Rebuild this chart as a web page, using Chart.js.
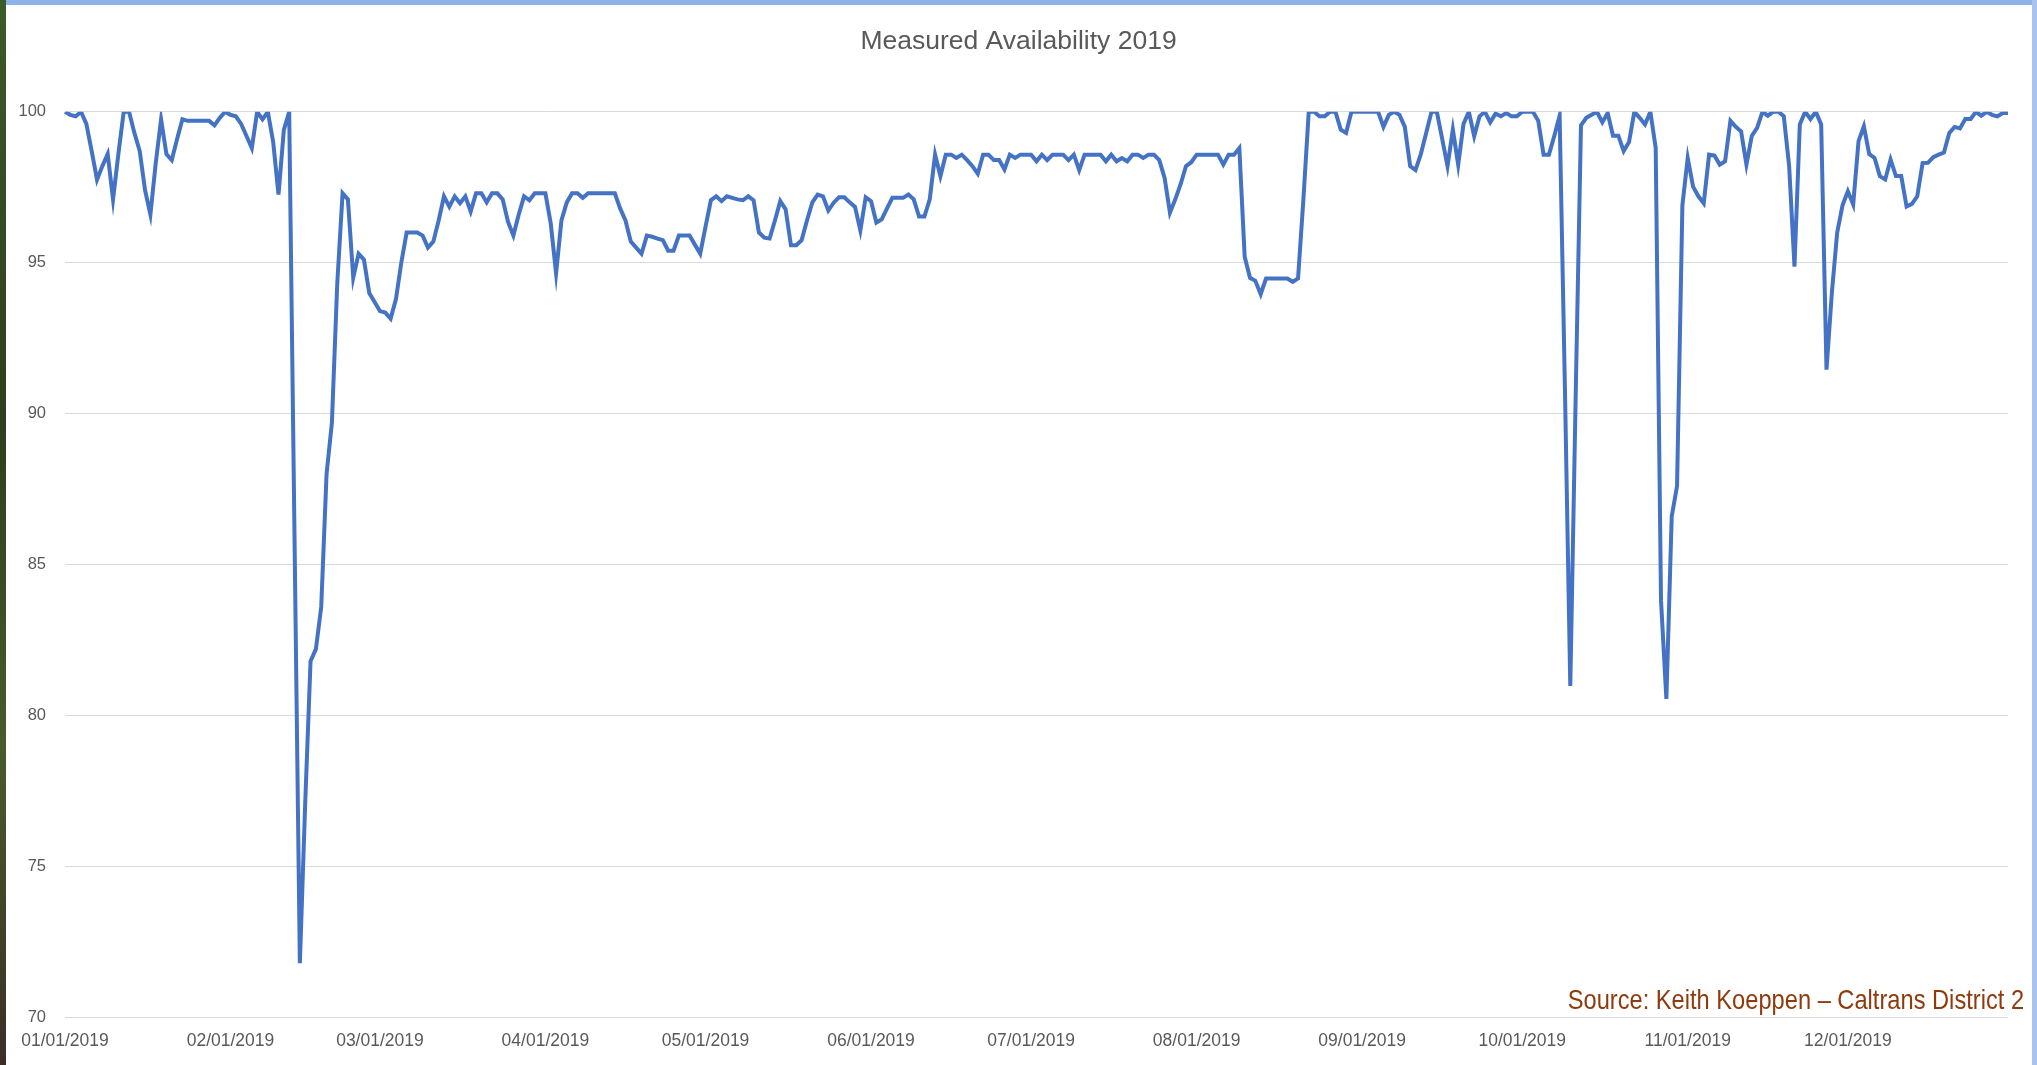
<!DOCTYPE html>
<html>
<head>
<meta charset="utf-8">
<script src="https://cdn.jsdelivr.net/npm/chart.js@4.4.1/dist/chart.umd.min.js"></script>
<style>
  html, body { margin: 0; padding: 0; background: #ffffff; }
  #wrap { position: relative; width: 2037px; height: 1065px; overflow: hidden; }
  #chartBox { position: absolute; left: 0; top: 0; width: 2037px; height: 1065px; }
  .edge { position: absolute; z-index: 2; }
  #edgeTop { left: 0; top: 0; width: 2037px; height: 5px; background: #8fb1ea; }
  #edgeLeft { left: 0; top: 0; width: 6px; height: 1065px; background: linear-gradient(#3c5a2a, #2c3f1f 40%, #4a5a2c 70%, #3a2f26); }
  #edgeRight { right: 0; top: 0; width: 5px; height: 1065px; background: #a9c2ee; }
  #source {
    position: absolute; z-index: 3; right: 13px; top: 984px;
    font-family: "Liberation Sans", Arial, sans-serif; font-size: 28px;
    color: #8f3a0c; white-space: nowrap;
    transform: scaleX(0.845); transform-origin: right center;
  }
</style>
</head>
<body>
<div id="wrap">
  <div id="chartBox"><canvas id="lineChart"></canvas></div>
  <div class="edge" id="edgeTop"></div>
  <div class="edge" id="edgeLeft"></div>
  <div class="edge" id="edgeRight"></div>
  <div id="source">Source: Keith Koeppen – Caltrans District 2</div>
</div>
<script>
// daily measured availability (%), 01/01/2019 .. 12/31/2019
const availability = [
  100.0, 99.9, 99.85, 100, 99.6, 98.7, 97.75, 98.2, 98.6, 97.1,
  98.6, 100, 100, 99.3, 98.7, 97.4, 96.6, 98.3, 99.75, 98.6,
  98.4, 99.1, 99.75, 99.7, 99.7, 99.7, 99.7, 99.7, 99.55, 99.8,
  100, 99.9, 99.85, 99.6, 99.2, 98.8, 100, 99.75, 100, 99.0,
  97.26, 99.4, 100, 85.9, 71.8, 77.1, 81.8, 82.2, 83.6, 88.0,
  89.7, 94.3, 97.3, 97.1, 94.5, 95.3, 95.1, 94.0, 93.7, 93.4,
  93.35, 93.15, 93.8, 95.0, 96.0, 96.0, 96.0, 95.9, 95.5, 95.7,
  96.4, 97.2, 96.86, 97.2, 96.97, 97.2, 96.7, 97.3, 97.3, 97.0,
  97.3, 97.3, 97.1, 96.35, 95.9, 96.6, 97.2, 97.07, 97.3, 97.3,
  97.3, 96.3, 94.65, 96.4, 97.0, 97.3, 97.3, 97.15, 97.3, 97.3,
  97.3, 97.3, 97.3, 97.3, 96.8, 96.4, 95.7, 95.5, 95.3, 95.9,
  95.86, 95.8, 95.75, 95.4, 95.4, 95.9, 95.9, 95.9, 95.6, 95.3,
  96.2, 97.07, 97.2, 97.04, 97.2, 97.15, 97.1, 97.07, 97.2, 97.07,
  96.0, 95.83, 95.8, 96.4, 97.04, 96.77, 95.58, 95.58, 95.75, 96.4,
  97.0, 97.26, 97.2, 96.73, 96.99, 97.17, 97.17, 97.0, 96.85, 96.07,
  97.17, 97.04, 96.33, 96.44, 96.8, 97.15, 97.15, 97.15, 97.26, 97.1,
  96.53, 96.53, 97.1, 98.58, 97.87, 98.58, 98.58, 98.47, 98.58, 98.4,
  98.2, 97.95, 98.58, 98.58, 98.4, 98.4, 98.09, 98.58, 98.47, 98.58,
  98.58, 98.58, 98.36, 98.58, 98.4, 98.58, 98.58, 98.58, 98.4, 98.58,
  98.07, 98.58, 98.58, 98.58, 98.58, 98.36, 98.58, 98.36, 98.47, 98.36,
  98.58, 98.58, 98.47, 98.58, 98.58, 98.4, 97.81, 96.66, 97.1, 97.6,
  98.2, 98.33, 98.58, 98.58, 98.58, 98.58, 98.58, 98.25, 98.58, 98.58,
  98.8, 95.2, 94.5, 94.4, 93.96, 94.48, 94.48, 94.48, 94.48, 94.48,
  94.37, 94.48, 97.1, 100, 100, 99.85, 99.85, 100, 100, 99.41,
  99.3, 100, 100, 100, 100, 100, 100, 99.5, 99.9, 100,
  99.9, 99.5, 98.2, 98.07, 98.6, 99.3, 100, 100, 99.1, 98.2,
  99.41, 98.25, 99.6, 100, 99.19, 99.85, 100, 99.65, 99.94, 99.85,
  99.96, 99.85, 99.85, 100, 100, 100, 99.7, 98.58, 98.58, 99.2,
  99.87, 90.8, 80.98, 90.5, 99.55, 99.8, 99.9, 100, 99.65, 99.96,
  99.21, 99.21, 98.7, 99.0, 100, 99.8, 99.58, 100, 98.8, 83.8,
  80.55, 86.6, 87.6, 96.9, 98.47, 97.52, 97.2, 96.97, 98.58, 98.55,
  98.25, 98.36, 99.7, 99.5, 99.35, 98.25, 99.2, 99.47, 100, 99.87,
  100, 100, 99.85, 98.2, 94.87, 99.58, 100, 99.76, 100, 99.58,
  91.46, 94.0, 96.0, 96.9, 97.37, 96.93, 99.03, 99.52, 98.6, 98.47,
  97.87, 97.76, 98.42, 97.87, 97.87, 96.86, 96.95, 97.2, 98.3, 98.31,
  98.5, 98.58, 98.65, 99.3, 99.5, 99.45, 99.76, 99.76, 100, 99.87,
  100, 99.9, 99.85, 99.96, 99.96
];

const yMin = 70;
const yMax = 100;
const yStep = 5;

// one category per day of 2019, written MM/DD/YYYY
const dayLabels = [];
for (let i = 0; i < availability.length; i++) {
  const d = new Date(Date.UTC(2019, 0, 1 + i));
  const mm = String(d.getUTCMonth() + 1).padStart(2, '0');
  const dd = String(d.getUTCDate()).padStart(2, '0');
  dayLabels.push(mm + '/' + dd + '/2019');
}

let StartFunc = () => {
  const ctx = document.getElementById('lineChart');

  new Chart(ctx, {
    type: 'line',
    data: {
      labels: dayLabels,
      datasets: [{
        label: 'Measured Availability',
        data: availability,
        borderColor: '#4472c4',
        borderWidth: 4,
        pointRadius: 0,
        tension: 0,
        fill: false
      }]
    },
    options: {
      responsive: true,
      maintainAspectRatio: false,
      animation: false,
      devicePixelRatio: 1,
      layout: {
        padding: { left: 0, right: 0, top: 0, bottom: 0 }
      },
      plugins: {
        legend: { display: false },
        tooltip: { enabled: false },
        title: {
          display: true,
          text: 'Measured Availability 2019',
          color: '#595959',
          font: { family: '"Liberation Sans", Arial, sans-serif', size: 26.5, weight: 'normal' },
          padding: { top: 26, bottom: 54 }
        }
      },
      scales: {
        x: {
          // keep room on the right of the plot without moving the title off centre
          afterFit: (scale) => { scale.paddingRight = 29; },
          grid: { display: false, drawTicks: false },
          border: { display: false },
          ticks: {
            autoSkip: false,
            maxRotation: 0,
            minRotation: 0,
            padding: 15,
            color: '#595959',
            font: { family: '"Liberation Sans", Arial, sans-serif', size: 17.5, lineHeight: 1.0 },
            callback: function (value) {
              const lab = this.getLabelForValue(value);
              return lab.slice(3, 5) === '01' ? lab : '';
            }
          }
        },
        y: {
          min: yMin,
          max: yMax,
          afterFit: (scale) => { scale.width = 65; },
          grid: { color: '#d9d9d9', lineWidth: 1, drawTicks: false },
          border: { display: false },
          ticks: {
            stepSize: yStep,
            padding: 19,
            color: '#595959',
            font: { family: '"Liberation Sans", Arial, sans-serif', size: 16.5 }
          }
        }
      }
    }
  });
};

StartFunc();
</script>
</body>
</html>
